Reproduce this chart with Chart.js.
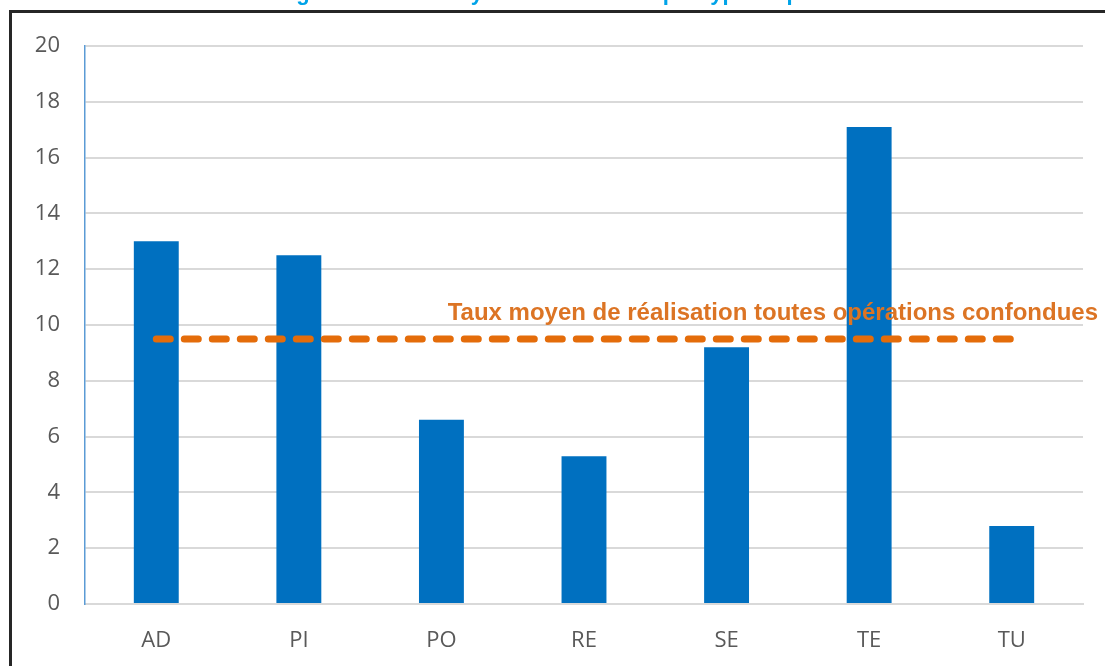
<!DOCTYPE html>
<html>
<head>
<meta charset="utf-8">
<script src="https://cdn.jsdelivr.net/npm/chart.js@4/dist/chart.umd.min.js"></script>
<style>
  html, body { margin: 0; padding: 0; background: #ffffff; overflow: hidden; }
  #wrap { position: relative; width: 1105px; height: 666px; }
  #frame { position: absolute; left: 9px; top: 10px; width: 1200px; height: 800px;
           border-left: 3px solid #262626; border-top: 3px solid #262626; box-sizing: border-box; }
  canvas { position: absolute; left: 0; top: 0; }
</style>
</head>
<body>
<div id="wrap">
  <div id="frame"></div>
  <canvas id="c" width="1105" height="666"></canvas>
</div>
<script>
const categories = ["AD", "PI", "PO", "RE", "SE", "TE", "TU"];
const tauxParType = [13.0, 12.5, 6.6, 5.3, 9.2, 17.1, 2.8];
const tauxMoyen = 9.5;
const tauxMoyenSerie = categories.map(() => tauxMoyen);
const yTicks = [0, 2, 4, 6, 8, 10, 12, 14, 16, 18, 20];
const titleText = "Figure 3 : Taux moyen de réalisation par type d'opération";
const annotationText = "Taux moyen de réalisation toutes opérations confondues";

const overlay = {
  id: 'overlay',
  afterDraw(chart) {
    const ctx = chart.ctx;
    const y = chart.scales.y;
    ctx.save();
    // annotation
    ctx.font = 'bold 24px "Liberation Sans", Arial, sans-serif';
    ctx.fillStyle = '#DC7424';
    ctx.textAlign = 'right';
    ctx.textBaseline = 'alphabetic';
    ctx.fillText(annotationText, 1098, y.getPixelForValue(tauxMoyen) - 19);
    // cut-off title
    ctx.font = 'bold 22px "Liberation Sans", Arial, sans-serif';
    ctx.fillStyle = '#00A3E8';
    ctx.textAlign = 'center';
    ctx.fillText(titleText, 575, 0);
    ctx.restore();
  }
};

new Chart(document.getElementById('c'), {
  data: {
    labels: categories,
    datasets: [
      {
        type: 'line',
        data: tauxMoyenSerie,
        borderColor: '#E46C0A',
        borderWidth: 7,
        borderDash: [14, 14],
        borderCapStyle: 'round',
        pointRadius: 0,
        fill: false,
        order: 0
      },
      {
        type: 'bar',
        data: tauxParType,
        backgroundColor: '#0070C0',
        barPercentage: 0.315,
        categoryPercentage: 1.0,
        order: 1
      }
    ]
  },
  options: {
    responsive: false,
    animation: false,
    layout: { padding: { top: 46, right: 22, left: 0, bottom: 0 } },
    plugins: { legend: { display: false }, tooltip: { enabled: false }, title: { display: false } },
    scales: {
      x: {
        grid: { display: false, drawTicks: false },
        border: { display: true, color: '#D9D9D9', width: 2 },
        ticks: { color: '#595959', font: { family: '"Open Sans", sans-serif', size: 22 }, padding: 24 },
        afterFit(scale) { scale.height = 62; }
      },
      y: {
        min: 0, max: 20,
        afterBuildTicks(scale) { scale.ticks = yTicks.map(v => ({ value: v })); },
        grid: { color: '#D9D9D9', lineWidth: 2, drawTicks: false },
        border: { display: true, color: '#5B9BD5', width: 1.5 },
        ticks: { color: '#595959', font: { family: '"Open Sans", sans-serif', size: 22 }, padding: 25 },
        afterFit(scale) { scale.width = 85; }
      }
    }
  },
  plugins: [overlay]
});
</script>
</body>
</html>
